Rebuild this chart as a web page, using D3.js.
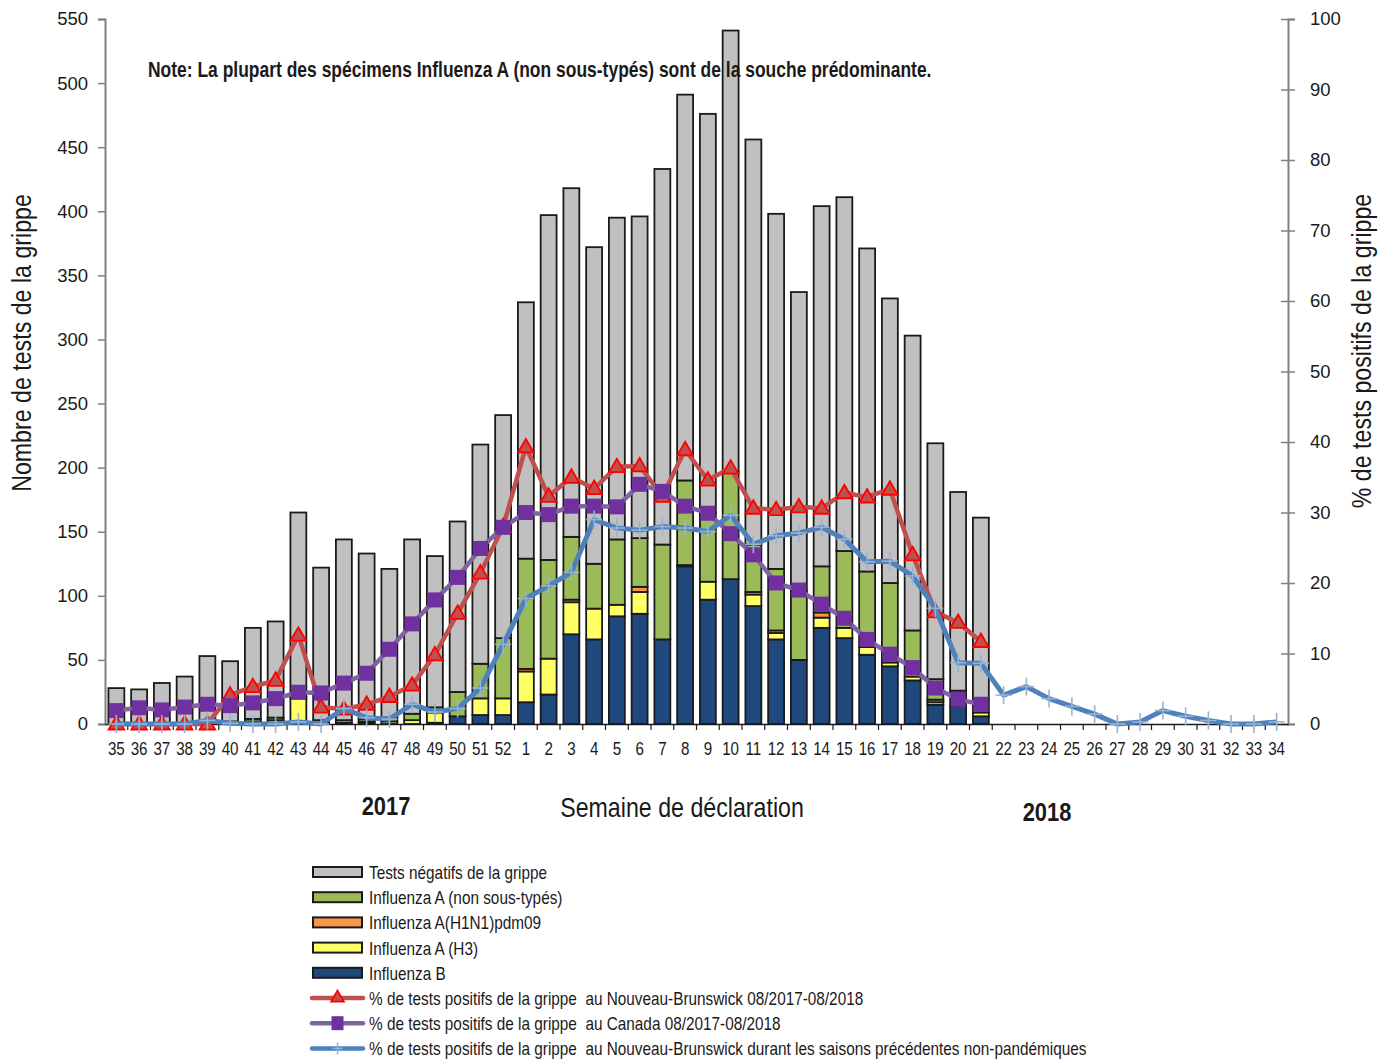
<!DOCTYPE html>
<html><head><meta charset="utf-8">
<script src="https://cdn.jsdelivr.net/npm/d3@7"></script>
<style>
body{margin:0;background:#fff;}
text{white-space:pre;}
</style></head>
<body><svg id="c" width="1395" height="1060"></svg>
<script>
// ---------- DATA ----------
const weeks = [35,36,37,38,39,40,41,42,43,44,45,46,47,48,49,50,51,52,1,2,3,4,5,6,7,8,9,10,11,12,13,14,15,16,17,18,19,20,21,22,23,24,25,26,27,28,29,30,31,32,33,34];
// bar weeks: 35 .. 21 (39 weeks)
const fluB     = [0,0,0,0,0,0,0,1,0,0,0,1,0,0,1,6,7,7,17,23,70,66,84,86,66,123,97,113,92,66,50,75,67,54,45,34,15,14,6];
const fluAH3   = [0,0,0,0,0,1,2,2,20,1,0,1,2,3,8,0,13,13,24,28,25,24,9,17,0,1,14,0,9,5,0,8,8,6,3,3,2,0,3];
const fluAH1N1 = [0,0,0,0,0,0,0,0,0,0,1,0,0,0,0,0,0,0,2,0,2,0,0,4,0,0,0,0,2,2,0,4,0,0,0,0,2,0,0];
const fluANS   = [0,0,0,0,0,1,2,2,1,2,2,2,3,5,4,19,27,47,86,77,49,35,51,38,74,66,54,84,37,48,54,36,60,59,62,36,16,12,10];
const negTests = [28,27,32,37,53,47,71,75,144,119,141,129,116,136,118,133,171,174,200,269,272,247,251,251,293,301,311,344,316,277,233,281,276,252,222,230,184,155,142];
// % positive lines
const pctNB     = [0,0,0,0,0,4.1,5.3,6.2,12.6,2.4,2.1,2.8,3.9,5.5,9.8,15.7,21.4,28.0,39.3,32.3,35.0,33.4,36.5,36.6,32.3,38.9,34.6,36.3,30.6,30.4,30.8,30.6,32.8,32.2,33.3,24.0,15.9,14.4,11.7];
const pctCanada = [1.9,2.3,2.0,2.4,2.8,2.6,3.0,3.6,4.5,4.4,5.8,7.2,10.6,14.2,17.6,20.8,24.9,27.9,30.0,29.7,30.9,30.9,30.8,34.0,33.0,30.9,29.9,27.0,24.0,20.0,19.0,17.0,15.0,12.0,9.9,8.0,5.1,3.5,2.8];
const pctHist   = [0,0,0,0,0.5,0.1,0,0,0.3,0,2.2,0.9,0.7,2.8,1.7,2.2,5.1,11.3,17.8,19.6,21.5,29.0,27.8,27.5,28.0,27.8,27.3,29.6,25.5,26.7,27.1,27.9,26.2,23.0,23.1,21.0,16.4,8.7,8.6,4.1,5.3,3.6,2.5,1.4,0,0.3,1.9,1.1,0.5,0,0,0.3];
const leftTicks  = [0,50,100,150,200,250,300,350,400,450,500,550];
const rightTicks = [0,10,20,30,40,50,60,70,80,90,100];
const seriesNames = ["Influenza B","Influenza A (H3)","Influenza A(H1N1)pdm09","Influenza A (non sous-typés)","Tests négatifs de la grippe"];
const seriesColors = ["#1F497D","#FFFF66","#F79646","#9BBB59","#C0C0C0"];
const lineNames = ["% de tests positifs de la grippe  au Nouveau-Brunswick 08/2017-08/2018",
                   "% de tests positifs de la grippe  au Canada 08/2017-08/2018",
                   "% de tests positifs de la grippe  au Nouveau-Brunswick durant les saisons précédentes non-pandémiques"];

// ---------- CHART ----------
const svg = d3.select("#c");
const L = 105, R = 1288, T = 19, B = 724;
const FONT = '"Liberation Sans",Arial,sans-serif';
const SX = 0.82; // narrow face: regular face condensed horizontally
const INK = "#1a1a1a";

function ntext(str, x, y, size, opts={}){
  const g = svg.append("g").attr("transform",`translate(${x},${y}) rotate(${opts.rot||0}) scale(${SX},1)`);
  return g.append("text").attr("text-anchor",opts.anchor||"start").attr("font-family",FONT)
    .attr("font-size",size).attr("font-weight",opts.bold?"bold":"normal").attr("fill",INK).text(str);
}

const x = d3.scaleBand().domain(weeks.map(String)).range([L,R]).paddingInner(0.3).paddingOuter(0.15);
const y = d3.scaleLinear().domain([0,550]).range([B,T]);
const y2 = d3.scaleLinear().domain([0,100]).range([B,T]);

// stacked bars
const barWeeks = weeks.slice(0, fluB.length);
const rows = barWeeks.map((w,i)=>({week:String(w), s0:fluB[i], s1:fluAH3[i], s2:fluAH1N1[i], s3:fluANS[i], s4:negTests[i]}));
const stack = d3.stack().keys(["s0","s1","s2","s3","s4"])(rows);
const gBars = svg.append("g");
stack.forEach((layer,k)=>{
  gBars.selectAll(null).data(layer.filter(d=>d[1]-d[0]>0)).join("rect")
    .attr("x", d=>x(d.data.week))
    .attr("width", x.bandwidth())
    .attr("y", d=>y(d[1]))
    .attr("height", d=>y(d[0])-y(d[1]))
    .attr("fill", seriesColors[k])
    .attr("stroke",INK).attr("stroke-width",1.8);
});

// axes
const gl = svg.append("g").attr("transform",`translate(${L},0)`)
  .call(d3.axisLeft(y).tickValues(leftTicks).tickSize(7).tickPadding(10));
gl.select(".domain").attr("stroke","#808080").attr("stroke-width",2);
gl.selectAll(".tick line").attr("stroke","#808080").attr("stroke-width",1.5);
gl.selectAll(".tick text").attr("font-family",FONT).attr("font-size",18.5).attr("fill",INK);

const gr = svg.append("g").attr("transform",`translate(${R},0)`)
  .call(d3.axisRight(y2).tickValues(rightTicks).tickSize(7).tickPadding(15));
gr.select(".domain").attr("stroke","#808080").attr("stroke-width",2);
gr.selectAll(".tick line").attr("x1",-7).attr("stroke","#808080").attr("stroke-width",1.5);
gr.selectAll(".tick text").attr("font-family",FONT).attr("font-size",18.5).attr("fill",INK);

const gb = svg.append("g").attr("transform",`translate(0,${B})`)
  .call(d3.axisBottom(x).tickSize(0).tickPadding(18));
gb.select(".domain").attr("stroke",INK).attr("stroke-width",1.5);
gb.selectAll(".tick text").attr("font-family",FONT).attr("font-size",18.5).attr("fill",INK)
  .attr("transform",`scale(${SX},1)`);
// tick marks between categories
const bounds = weeks.slice(1).map(w=>x(String(w)) - x.step()*x.paddingInner()/2);
svg.append("g").selectAll("line").data(bounds).join("line")
  .attr("x1",d=>d).attr("x2",d=>d).attr("y1",B).attr("y2",B+6)
  .attr("stroke",INK).attr("stroke-width",1.2);

// lines
const cx = i => x(String(weeks[i])) + x.bandwidth()/2;
const line = d3.line().x((d,i)=>cx(i)).y(d=>y2(d));
// red
svg.append("path").datum(pctNB).attr("d",line).attr("fill","none").attr("stroke","#C0504D").attr("stroke-width",4.5).attr("stroke-linejoin","round");
const tri = d3.symbol().type(d3.symbolTriangle).size(105);
svg.append("g").selectAll("path").data(pctNB).join("path")
  .attr("d",tri).attr("transform",(d,i)=>`translate(${cx(i)},${y2(d)+1})`)
  .attr("fill","#C0504D").attr("stroke","#FF0000").attr("stroke-width",1.8);
// purple
svg.append("path").datum(pctCanada).attr("d",line).attr("fill","none").attr("stroke","#8064A2").attr("stroke-width",4.5).attr("stroke-linejoin","round");
svg.append("g").selectAll("rect").data(pctCanada).join("rect")
  .attr("x",(d,i)=>cx(i)-7.5).attr("y",d=>y2(d)-7.5).attr("width",15).attr("height",15)
  .attr("fill","#7030A0");
// blue
svg.append("path").datum(pctHist).attr("d",line).attr("fill","none").attr("stroke","#4F81BD").attr("stroke-width",5).attr("stroke-linejoin","round");
const plus = svg.append("g").selectAll("g").data(pctHist).join("g")
  .attr("transform",(d,i)=>`translate(${cx(i)},${y2(d)})`);
plus.append("line").attr("x1",-8).attr("x2",8).attr("stroke","#95B3D7").attr("stroke-width",1.6);
plus.append("line").attr("y1",-9).attr("y2",9).attr("stroke","#95B3D7").attr("stroke-width",1.6);

// texts
ntext("Note: La plupart des spécimens Influenza A (non sous-typés) sont de la souche prédominante.", 148, 77, 21.3, {bold:true});
ntext("Nombre de tests de la grippe", 31, 343, 28.3, {rot:-90, anchor:"middle"});
ntext("% de tests positifs de la grippe", 1371, 351, 28.3, {rot:-90, anchor:"middle"});
ntext("2017", 386, 815, 26.7, {anchor:"middle", bold:true});
ntext("Semaine de déclaration", 682, 817, 28.3, {anchor:"middle"});
ntext("2018", 1047, 821, 26.7, {anchor:"middle", bold:true});

// legend
const legY0 = 872, legDy = 25.2, lx0 = 312, lx1 = 363;
const legOrder = [4,3,2,1,0];
legOrder.forEach((k,j)=>{
  const yy = legY0 + j*legDy;
  svg.append("rect").attr("x",lx0+1).attr("y",yy-5).attr("width",lx1-lx0-2).attr("height",10)
    .attr("fill",seriesColors[k]).attr("stroke",INK).attr("stroke-width",2);
  ntext(seriesNames[k], 369, yy+7, 18.7);
});
const lineCols = ["#C0504D","#8064A2","#4F81BD"];
lineNames.forEach((n,j)=>{
  const yy = legY0 + (5+j)*legDy;
  svg.append("line").attr("x1",lx0).attr("x2",lx1).attr("y1",yy).attr("y2",yy).attr("stroke",lineCols[j]).attr("stroke-width",4.5).attr("stroke-linecap","round");
  const mx = (lx0+lx1)/2;
  if(j===0) svg.append("path").attr("d",d3.symbol().type(d3.symbolTriangle).size(70)).attr("transform",`translate(${mx},${yy})`).attr("fill","#C0504D").attr("stroke","#FF0000").attr("stroke-width",1.8);
  if(j===1) svg.append("rect").attr("x",mx-6).attr("y",yy-7).attr("width",12).attr("height",14).attr("fill","#7030A0");
  if(j===2){ svg.append("line").attr("x1",mx-5).attr("x2",mx+5).attr("y1",yy).attr("y2",yy).attr("stroke","#95B3D7").attr("stroke-width",1.5);
             svg.append("line").attr("x1",mx).attr("x2",mx).attr("y1",yy-6).attr("y2",yy+6).attr("stroke","#95B3D7").attr("stroke-width",1.5);}
  ntext(n, 369, yy+7, 18.7);
});
</script></body></html>
